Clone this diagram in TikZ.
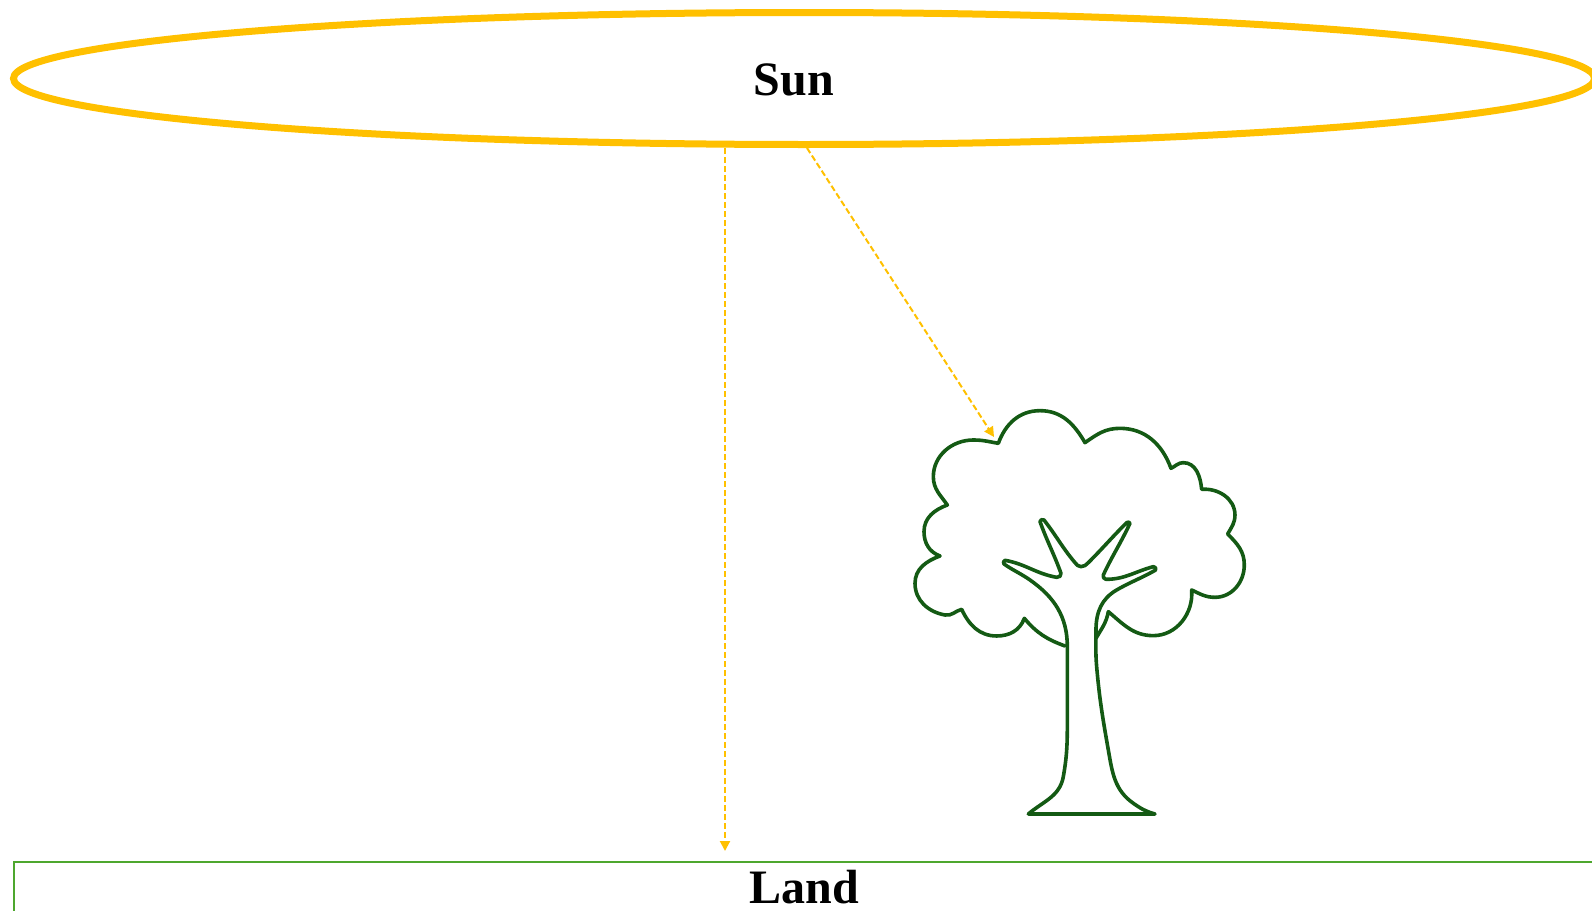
\documentclass[tikz,border=0pt]{standalone}
\usepackage{fontspec}
\setmainfont{Liberation Serif}
\usepackage{xcolor}
\usetikzlibrary{arrows.meta,positioning,shapes.geometric}
\definecolor{sunline}{HTML}{FFC000}
\definecolor{landline}{HTML}{4EA72E}
\definecolor{treeline}{HTML}{145A14}
\tikzset{ray/.style={-{Triangle[length=10pt,width=10pt]},draw=sunline,line width=2pt,dash pattern=on 6pt off 3pt},treeedge/.style={draw=treeline,line width=3.6pt,line join=round,line cap=round},bigword/.style={font=\fontsize{48}{48}\selectfont\bfseries}}
\begin{document}
\begin{tikzpicture}[x=1pt,y=-1pt]
 \useasboundingbox (0,0) rectangle (1592,910);
 \node[ellipse,draw=sunline,line width=7pt,minimum width=1581pt,minimum height=132pt,inner sep=0pt] (sun) at (804,78.5) {};
 \node[bigword] (sunlabel) at (794,80) {Sun};
 \node[rectangle,draw=landline,line width=2.5pt,minimum width=1581pt,minimum height=50pt,inner sep=0pt,bigword] (land) at (804.5,887) {Land};
 \coordinate (rayfoot) at (725,148);
 \coordinate (raytop) at (807,148);
 \coordinate (landhit) at (725,851);
 \coordinate (treehit) at (994,437);
 \draw[ray] (rayfoot) -- (landhit);
 \draw[ray] (raytop) -- (treehit);
 \begin{scope}[shift={(890,390)},x=.3333pt,y=-.3333pt]
  % crown, lobe by lobe
  \draw[treeedge] (525,768) to[out=160,in=-50] (403,685)
   to[out=-110,in=0] (320,738) to[out=180,in=-65] (215,658)
   to[out=-165,in=-10] (165,675) to[out=170,in=-90] (75,580) to[out=90,in=-160] (150,498)
   to[out=160,in=-90] (102,425) to[out=90,in=-160] (172,345)
   to[out=125,in=-90] (130,260) to[out=90,in=180] (250,150) to[out=0,in=170] (325,160)
   to[out=70,in=180] (450,62) to[out=0,in=120] (585,158)
   to[out=35,in=180] (690,115) to[out=0,in=110] (843,235)
   to[out=25,in=180] (880,218) to[out=0,in=95] (935,298)
   to[out=5,in=90] (1035,375) to[out=-90,in=60] (1013,432)
   to[out=-45,in=90] (1063,525) to[out=-90,in=0] (975,622) to[out=180,in=-25] (905,600)
   to[out=-85,in=0] (790,737) to[out=180,in=-40] (655,665)
   to[out=-100,in=60] (618,745);
  % trunk and branches
  \draw[treeedge] (415,1272) to[out=40,in=-100] (520,1160) to[out=80,in=-90] (532,1000) -- (532,770)
   to[out=90,in=-35] (420,570) to[out=145,in=-35] (342,522) to[out=145,in=180] (345,511)
   to[out=-10,in=170] (500,562) to[out=-10,in=-70] (513,550)
   to[out=110,in=-70] (450,395) to[out=110,in=130] (462,390)
   to[out=-52,in=130] (555,518) to[out=-50,in=180] (573,530) to[out=0,in=-135] (595,518)
   to[out=45,in=-135] (710,398) to[out=45,in=90] (720,400)
   to[out=-115,in=65] (640,555) to[out=-115,in=180] (648,568)
   to[out=0,in=195] (790,530) to[out=15,in=45] (797,540)
   to[out=-150,in=30] (680,600) to[out=-150,in=90] (618,720)
   to[out=-90,in=95] (620,830) to[out=-85,in=100] (655,1080)
   to[out=-80,in=145] (730,1240) to[out=-35,in=165] (795,1272) -- cycle;
 \end{scope}
\end{tikzpicture}
\end{document}
